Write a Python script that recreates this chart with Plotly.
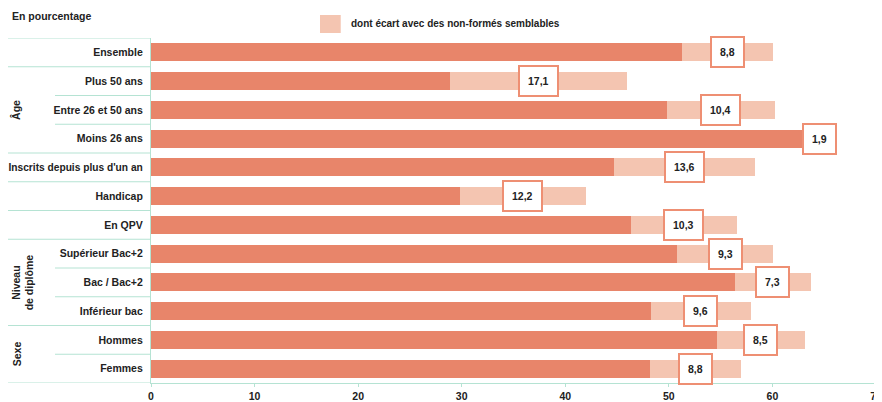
import plotly.graph_objects as go

categories = ["Ensemble", "Plus 50 ans", "Entre 26 et 50 ans", "Moins 26 ans",
              "Inscrits depuis plus d'un an", "Handicap", "En QPV",
              "Supérieur Bac+2", "Bac / Bac+2", "Inférieur bac", "Hommes", "Femmes"]
base_values = [51.3, 28.9, 49.8, 63.6, 44.7, 29.8, 46.3, 50.8, 56.4, 48.3, 54.6, 48.2]
gap_values = [8.8, 17.1, 10.4, 1.9, 13.6, 12.2, 10.3, 9.3, 7.3, 9.6, 8.5, 8.8]
x_ticks = [0, 10, 20, 30, 40, 50, 60, 70]
legend_label = "dont écart avec des non-formés semblables"
groups = [("Âge", 1, 3, -0.1862), ("Niveau<br>de diplôme", 7, 9, -0.1766), ("Sexe", 10, 11, -0.1848)]
full_separators = [-0.5, 0.5, 3.5, 4.5, 5.5, 6.5, 9.5, 11.5]
inner_separators = [1.5, 2.5, 7.5, 8.5, 10.5]

DARK = "#E8856A"
LIGHT = "#F4C5B1"
LINE = "#B5E3D3"
TXT = "#222222"
FONT = "Liberation Sans"

ypos = list(range(len(categories)))
tick_text = [c if len(c) < 22 else f'<span style="font-size:10.2px">{c}</span>' for c in categories]

fig = go.Figure()
fig.add_trace(go.Bar(y=ypos, x=base_values, orientation="h",
                     marker=dict(color=DARK, line=dict(width=0)), showlegend=False,
                     hoverinfo="x"))
fig.add_trace(go.Bar(y=ypos, x=gap_values, base=base_values, orientation="h",
                     marker=dict(color=LIGHT, line=dict(width=0)), name=legend_label,
                     showlegend=False, hoverinfo="x"))

annotations = []
for i, (b, g) in enumerate(zip(base_values, gap_values)):
    annotations.append(dict(
        x=b + g / 2, y=i, xref="x", yref="y",
        text=f"{g:.1f}".replace(".", ","), showarrow=False,
        font=dict(family=FONT, size=10.5, color=TXT, weight="bold"),
        bgcolor="white", bordercolor="#EE8F73", borderwidth=2, borderpad=8,
        xanchor="center", yanchor="middle"))

for label, r0, r1, gx in groups:
    annotations.append(dict(
        x=gx, y=(r0 + r1) / 2, xref="paper", yref="y", text=label,
        showarrow=False, textangle=-90,
        font=dict(family=FONT, size=10.5, color=TXT, weight="bold"),
        xanchor="center", yanchor="middle"))

annotations.append(dict(
    x=(10 - 151) / 725, y=(383 - 16) / 345, xref="paper", yref="paper",
    text="En pourcentage", showarrow=False,
    font=dict(family=FONT, size=10.5, color=TXT, weight="bold"),
    xanchor="left", yanchor="middle"))
annotations.append(dict(
    x=0.2731, y=1.0406, xref="paper", yref="paper", text=legend_label, showarrow=False,
    font=dict(family=FONT, size=10, color=TXT, weight="bold"),
    xanchor="left", yanchor="middle"))

shapes = [dict(type="rect", xref="paper", yref="paper", x0=0.2331, x1=0.2617,
               y0=1.0145, y1=1.0667, fillcolor=LIGHT, line=dict(width=0))]
for yv in full_separators:
    shapes.append(dict(type="line", xref="paper", yref="y", x0=-0.1986, x1=0,
                       y0=yv, y1=yv, line=dict(color=LINE, width=1.2)))
for yv in inner_separators:
    shapes.append(dict(type="line", xref="paper", yref="y", x0=-0.1324, x1=0,
                       y0=yv, y1=yv, line=dict(color=LINE, width=1.2)))

# the page body adds an 8px offset to the figure
fig.update_layout(
    width=882, height=394,
    margin=dict(l=143, r=14, t=30, b=19),
    paper_bgcolor="white", plot_bgcolor="white",
    barmode="stack", bargap=0.374,
    annotations=annotations, shapes=shapes,
    font=dict(family=FONT, size=10.5, color=TXT),
    xaxis=dict(range=[0, 70], tickvals=x_ticks, showgrid=False, zeroline=False,
               showline=True, linecolor=LINE, linewidth=1.2, ticks="outside",
               ticklen=3, tickcolor=LINE, automargin=False, ticklabeloverflow="allow",
               tickfont=dict(family=FONT, size=10.5, color=TXT, weight="bold")),
    yaxis=dict(range=[11.5, -0.5], tickvals=ypos, ticktext=tick_text,
               showgrid=False, zeroline=False, showline=True, linecolor=LINE,
               linewidth=1.2, ticks="", ticklabelstandoff=5, automargin=False,
               tickfont=dict(family=FONT, size=10.5, color=TXT, weight="bold")),
)

fig.write_html("out.html")
